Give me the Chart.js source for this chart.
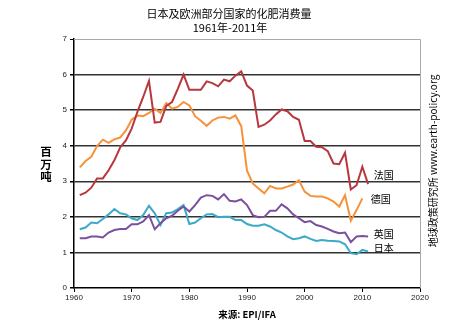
<!DOCTYPE html>
<html>
<head>
<meta charset="utf-8">
<script src="https://cdn.jsdelivr.net/npm/chart.js@4"></script>
<style>
  html, body { margin: 0; padding: 0; background: #fff; }
  #wrap { width: 454px; height: 328px; }
</style>
</head>
<body>
<div id="wrap"><canvas id="myChart" width="454" height="328"></canvas></div>
<script>
const years = [];
for (let y = 1961; y <= 2011; y++) years.push(y);

// 百万吨
const france = [2.61, 2.68, 2.82, 3.08, 3.08, 3.31, 3.59, 3.95, 4.15, 4.48,
  4.95, 5.37, 5.82, 4.65, 4.67, 5.12, 5.23, 5.6, 6.0, 5.57,
  5.57, 5.57, 5.81, 5.76, 5.67, 5.86, 5.81, 5.97, 6.09, 5.69,
  5.55, 4.53, 4.59, 4.71, 4.88, 5.02, 4.97, 4.81, 4.73, 4.13,
  4.13, 3.97, 3.96, 3.85, 3.5, 3.48, 3.8, 2.77, 2.89, 3.41, 2.92];
const germany = [3.39, 3.57, 3.69, 3.99, 4.17, 4.08, 4.18, 4.23, 4.43, 4.73,
  4.85, 4.83, 4.92, 5.04, 4.92, 5.2, 5.04, 5.09, 5.23, 5.13,
  4.83, 4.7, 4.56, 4.71, 4.79, 4.81, 4.76, 4.85, 4.55, 3.3,
  2.94, 2.8, 2.66, 2.87, 2.8, 2.8, 2.85, 2.91, 3.03, 2.71,
  2.59, 2.57, 2.57, 2.52, 2.43, 2.29, 2.61, 1.89, 2.19, 2.52, null];
const uk = [1.4, 1.4, 1.45, 1.45, 1.42, 1.56, 1.63, 1.66, 1.66, 1.79,
  1.79, 1.87, 2.05, 1.65, 1.82, 1.96, 2.03, 2.17, 2.29, 2.15,
  2.33, 2.54, 2.61, 2.59, 2.49, 2.64, 2.45, 2.43, 2.49, 2.33,
  2.05, 1.99, 2.0, 2.17, 2.17, 2.35, 2.24, 2.07, 1.96, 1.85,
  1.88, 1.77, 1.73, 1.66, 1.59, 1.54, 1.56, 1.29, 1.45, 1.46, 1.45];
const japan = [1.65, 1.7, 1.84, 1.82, 1.94, 2.07, 2.22, 2.1, 2.07, 1.96,
  1.91, 2.05, 2.31, 2.1, 1.77, 2.1, 2.12, 2.22, 2.33, 1.8,
  1.84, 1.96, 2.07, 2.08, 1.99, 2.0, 2.0, 1.91, 1.91, 1.8,
  1.75, 1.75, 1.79, 1.73, 1.63, 1.56, 1.45, 1.37, 1.4, 1.45,
  1.38, 1.32, 1.35, 1.33, 1.32, 1.31, 1.23, 0.98, 0.95, 1.07, 1.03];

function pts(arr) {
  return years.map((y, i) => ({ x: y, y: arr[i] }));
}

const cjk = '"Noto Sans CJK SC", "Noto Sans", sans-serif';

// textos del gráfico
const textPlugin = {
  id: 'texts',
  afterDraw(c) {
    const g = c.ctx;
    const a = c.chartArea;
    const sx = c.scales.x, sy = c.scales.y;
    g.save();
    // borde superior y derecho
    g.strokeStyle = '#aaa';
    g.lineWidth = 1;
    g.beginPath();
    g.moveTo(a.left, a.top + 0.5);
    g.lineTo(a.right + 0.5, a.top + 0.5);
    g.lineTo(a.right + 0.5, a.bottom);
    g.stroke();

    g.fillStyle = '#000';
    g.textAlign = 'center';
    g.textBaseline = 'middle';
    g.font = '11px ' + cjk;
    g.fillText('日本及欧洲部分国家的化肥消费量', 229, 14);
    g.fillText('1961年-2011年', 230, 28);

    g.font = 'bold 9.5px ' + cjk;
    g.fillText('来源: EPI/IFA', 247, 314);

    g.font = 'bold 11.5px ' + cjk;
    ['百', '万', '吨'].forEach((ch, i) => g.fillText(ch, 46, 152 + i * 12.5));

    // etiquetas de series
    g.font = '10px ' + cjk;
    g.textAlign = 'left';
    const lx = sx.getPixelForValue(2012);
    g.fillText('法国', lx, sy.getPixelForValue(3.18));
    g.fillText('德国', lx - 3, sy.getPixelForValue(2.5));
    g.fillText('英国', lx, sy.getPixelForValue(1.52));
    g.fillText('日本', lx, sy.getPixelForValue(1.12));

    // texto vertical a la derecha
    g.translate(433, 161);
    g.rotate(-Math.PI / 2);
    g.textAlign = 'center';
    g.font = '10px ' + cjk;
    g.fillText('地球政策研究所 www.earth-policy.org', 0, 0);
    g.restore();
  }
};

const ctx = document.getElementById('myChart').getContext('2d');
const chart = new Chart(ctx, {
  type: 'line',
  data: {
    datasets: [
      { label: '法国', data: pts(france), borderColor: '#b8373d' },
      { label: '德国', data: pts(germany), borderColor: '#f7923a' },
      { label: '英国', data: pts(uk), borderColor: '#7b509e' },
      { label: '日本', data: pts(japan), borderColor: '#3aaac8' }
    ]
  },
  options: {
    responsive: false,
    animation: false,
    layout: { padding: { top: 39, right: 34, left: 0, bottom: 0 } },
    elements: {
      point: { radius: 0 },
      line: { borderWidth: 2, tension: 0 }
    },
    plugins: {
      legend: { display: false },
      tooltip: { enabled: false }
    },
    scales: {
      x: {
        type: 'linear',
        min: 1960,
        max: 2020,
        ticks: { stepSize: 10, color: '#222', font: { size: 8 }, padding: 1,
          callback: v => String(v) },
        grid: { drawOnChartArea: false, tickLength: 4, tickColor: '#000' },
        border: { color: '#000', width: 1.5 },
        afterFit: s => { s.height = 40; }
      },
      y: {
        min: 0,
        max: 7,
        ticks: { stepSize: 1, color: '#222', font: { size: 8 }, padding: 3 },
        grid: {
          color: c => c.tick.value === 0 ? 'rgba(0,0,0,0)' : (c.tick.value === 7 ? '#aaa' : '#333'),
          lineWidth: c => c.tick.value === 7 ? 1 : 1.5,
          tickLength: 4,
          tickColor: '#000'
        },
        border: { color: '#000', width: 1.5 },
        afterFit: s => { s.width = 74; }
      }
    }
  },
  plugins: [textPlugin]
});
</script>
</body>
</html>
